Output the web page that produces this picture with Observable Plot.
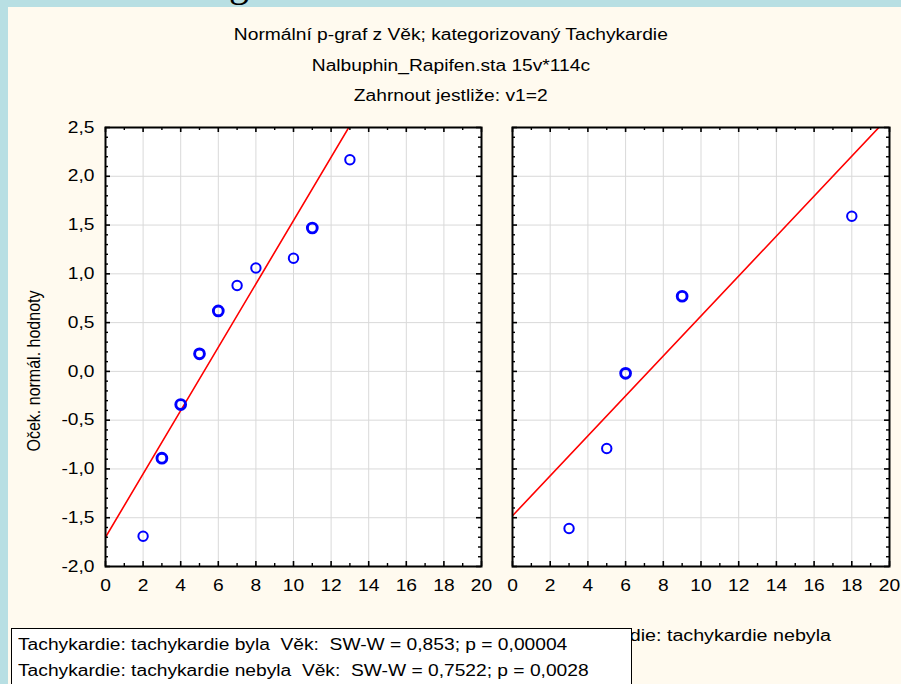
<!DOCTYPE html>
<html>
<head>
<meta charset="utf-8">
<script src="https://cdn.jsdelivr.net/npm/d3@7"></script>
<script src="https://cdn.jsdelivr.net/npm/@observablehq/plot@0.6"></script>
<style>
  html, body { margin: 0; padding: 0; background: #fffaef; }
  #page { position: relative; width: 901px; height: 684px; background: #fffaef; overflow: hidden;
          font-family: "Liberation Sans", Arial, sans-serif; color: #000; }
  .band-top { position: absolute; left: 0; top: 0; width: 901px; height: 7px; background: #b8dfe3; }
  .band-left { position: absolute; left: 0; top: 0; width: 8px; height: 684px; background: #b8dfe3; }
  .frag { position: absolute; left: 229px; top: -37px; font-family: "Liberation Serif", serif; font-size: 40px; line-height: 40px; color: #000; }
  .title { position: absolute; left: 0; width: 901px; text-align: center; font-size: 16px; line-height: 20px; white-space: pre; }
  .title span { display: inline-block; transform: scaleX(1.2); transform-origin: center; }
  .ylab { position: absolute; font-size: 16px; line-height: 20px; white-space: nowrap; transform: translate(-50%, -50%) scaleX(1.2) rotate(-90deg); }
  .cap { position: absolute; font-size: 16px; line-height: 20px; white-space: pre; transform: translateX(-50%) scaleX(1.23); }
  .plot { position: absolute; top: 0; }
  #legend { position: absolute; left: 11px; top: 628px; width: 621px; height: 80px; background: #fff;
            border: 1.5px solid #000; box-sizing: border-box; font-size: 16px; }
  #legend div { position: absolute; left: 6px; white-space: pre; line-height: 20px; transform: scaleX(1.2); transform-origin: left center; }
</style>
</head>
<body>
<div id="page">
  <div class="band-top"></div>
  <div class="band-left"></div>
  <div class="frag">g</div>
</div>
<script>
// ---------- data ----------
const titleLines = [
  "Normální p-graf z Věk; kategorizovaný Tachykardie",
  "Nalbuphin_Rapifen.sta 15v*114c",
  "Zahrnout jestliže: v1=2"
];
const yAxisLabel = "Oček. normál. hodnoty";
const groupNames = ["Tachykardie: tachykardie byla", "Tachykardie: tachykardie nebyla"];
const legendLines = [
  "Tachykardie: tachykardie byla  Věk:  SW-W = 0,853; p = 0,00004",
  "Tachykardie: tachykardie nebyla  Věk:  SW-W = 0,7522; p = 0,0028"
];

// group 1: tachykardie byla
const bylaAge   = [2, 3, 3, 4, 4, 5, 5, 6, 6, 7, 8, 10, 11, 11, 13];
const bylaScore = [-1.69, -0.89, -0.89, -0.34, -0.34, 0.18, 0.18, 0.62, 0.62, 0.88, 1.06, 1.16, 1.47, 1.47, 2.17];
const bylaFit   = {intercept: -1.70, slope: 0.3246};

// group 2: tachykardie nebyla
const nebylaAge   = [3, 5, 6, 6, 9, 9, 18];
const nebylaScore = [-1.61, -0.79, -0.02, -0.02, 0.77, 0.77, 1.59];
const nebylaFit   = {intercept: -1.48, slope: 0.2048};

// axes
const xDomain = [0, 20];
const yDomain = [-2, 2.5];
const xTicks = [0, 2, 4, 6, 8, 10, 12, 14, 16, 18, 20];
const xMinor = [1, 3, 5, 7, 9, 11, 13, 15, 17, 19];
const yTicks = [-2, -1.5, -1, -0.5, 0, 0.5, 1, 1.5, 2, 2.5];
const yMinor = d3.range(-19, 25).filter(i => i % 5 !== 0).map(i => i / 10);

// ---------- layout ----------
const page = document.getElementById("page");
const H = 620, MT = 127, MB = 54;
const PH = H - MT - MB;
const STRETCH = 1.2;

const fmtY = d => d3.format(".1f")(d).replace(".", ",").replace("\u2212", "-");

function panel(ages, scores, fit, {width, marginLeft, marginRight, showY}) {
  const PW = width - marginLeft - marginRight;
  // merge tied points; ties are drawn with a heavier ring, as in the reference
  const counts = d3.rollup(ages.map((a, i) => [a, scores[i]]), v => v.length, d => d[0] + "|" + d[1]);
  const pts = Array.from(counts, ([k, n]) => { const [x, y] = k.split("|").map(Number); return {x, y, n}; });
  const fitPts = xDomain.map(x => ({x, y: fit.intercept + fit.slope * x}));
  const marks = [
    Plot.frame({fill: "white", stroke: null}),
    Plot.gridX(xTicks, {stroke: "#d9d9d9", strokeOpacity: 1, strokeWidth: 1}),
    Plot.gridY(yTicks, {stroke: "#d9d9d9", strokeOpacity: 1, strokeWidth: 1}),
    Plot.line(fitPts, {x: "x", y: "y", stroke: "#ff0000", strokeWidth: 1.6, clip: true}),
    Plot.dot(pts.filter(d => d.n === 1), {x: "x", y: "y", r: 4.7, stroke: "#0000ff", strokeWidth: 2, fill: "none"}),
    Plot.dot(pts.filter(d => d.n > 1), {x: "x", y: "y", r: 4.9, stroke: "#0000ff", strokeWidth: 2.9, fill: "none"}),
    // inward ticks: top / bottom
    Plot.ruleX(xTicks, {x: d => d, insetBottom: PH - 5, stroke: "#000", strokeWidth: 1.6}),
    Plot.ruleX(xTicks, {x: d => d, insetTop: PH - 5, stroke: "#000", strokeWidth: 1.6}),
    Plot.ruleX(xMinor, {x: d => d, insetBottom: PH - 3, stroke: "#000", strokeWidth: 1.4}),
    Plot.ruleX(xMinor, {x: d => d, insetTop: PH - 3, stroke: "#000", strokeWidth: 1.4}),
    // inward ticks: left / right
    Plot.ruleY(yTicks, {y: d => d, insetRight: PW - 5, stroke: "#000", strokeWidth: 1.6}),
    Plot.ruleY(yTicks, {y: d => d, insetLeft: PW - 5, stroke: "#000", strokeWidth: 1.6}),
    Plot.ruleY(yMinor, {y: d => d, insetRight: PW - 3, stroke: "#000", strokeWidth: 1.4}),
    Plot.ruleY(yMinor, {y: d => d, insetLeft: PW - 3, stroke: "#000", strokeWidth: 1.4}),
    Plot.frame({stroke: "#000", strokeWidth: 2}),
    Plot.axisX(xTicks, {tickSize: 0, tickPadding: 13, tickFormat: d => String(d), label: null, fill: "#000", fontSize: 16})
  ];
  if (showY) marks.push(Plot.axisY(yTicks, {tickSize: 0, tickPadding: 11, tickFormat: fmtY, label: null, fill: "#000", fontSize: 16}));
  return Plot.plot({
    width, height: H,
    marginLeft, marginRight, marginTop: MT, marginBottom: MB,
    x: {domain: xDomain, axis: null},
    y: {domain: yDomain, axis: null},
    style: "background: transparent; font-family: 'Liberation Sans', Arial, sans-serif; font-size: 16px; color: #000; overflow: visible;",
    marks
  });
}

// widen tick labels to the reference's horizontally stretched lettering (keeps each label's anchor fixed)
function stretchLabels(svg) {
  const apply = (sel, anchor) => svg.querySelectorAll(sel).forEach(t => {
    const b = t.getBBox();
    const cx = anchor === "right" ? b.x + b.width : b.x + b.width / 2;
    const prev = t.getAttribute("transform") || "";
    t.setAttribute("transform", `${prev} translate(${cx},0) scale(${STRETCH},1) translate(${-cx},0)`);
  });
  apply('[aria-label="x-axis tick label"] text', "center");
  apply('[aria-label="y-axis tick label"] text', "right");
}

const p1 = panel(bylaAge, bylaScore, bylaFit, {width: 490, marginLeft: 105, marginRight: 9, showY: true});
p1.classList.add("plot"); p1.style.left = "0px";
const p2 = panel(nebylaAge, nebylaScore, nebylaFit, {width: 411, marginLeft: 22, marginRight: 12, showY: false});
p2.classList.add("plot"); p2.style.left = "490px";
page.appendChild(p1);
page.appendChild(p2);
stretchLabels(p1);
stretchLabels(p2);

// titles
const titleTops = [25, 56, 86];
titleLines.forEach((t, i) => {
  const d = document.createElement("div");
  d.className = "title"; d.style.top = titleTops[i] + "px";
  const s = document.createElement("span"); s.textContent = t; d.appendChild(s);
  page.appendChild(d);
});

// y axis label
const yl = document.createElement("div");
yl.className = "ylab"; yl.style.left = "34px"; yl.style.top = "371px"; yl.textContent = yAxisLabel;
page.appendChild(yl);

// group captions under panels
const capCenters = [284, 691];
groupNames.forEach((g, i) => {
  const d = document.createElement("div");
  d.className = "cap"; d.style.left = capCenters[i] + "px"; d.style.top = "626px"; d.textContent = g;
  page.appendChild(d);
});

// legend box
const lg = document.createElement("div");
lg.id = "legend";
legendLines.forEach((t, i) => {
  const d = document.createElement("div");
  d.style.top = (6 + i * 26) + "px"; d.textContent = t;
  lg.appendChild(d);
});
page.appendChild(lg);
</script>
</body>
</html>
